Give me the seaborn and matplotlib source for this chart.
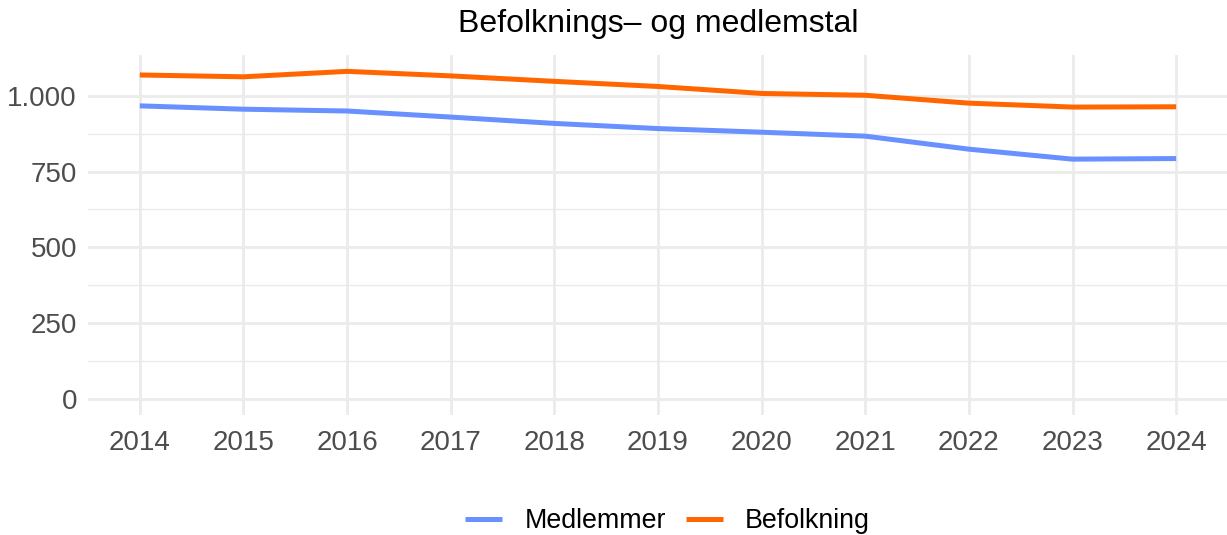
import pandas as pd
import matplotlib
matplotlib.use("Agg")
import matplotlib.pyplot as plt
import matplotlib.ticker as mticker
import seaborn as sns

# --- DATA ---
years = [2014, 2015, 2016, 2017, 2018, 2019, 2020, 2021, 2022, 2023, 2024]
medlemmer = [967, 956, 950, 930, 909, 892, 880, 867, 824, 791, 793]
befolkning = [1069, 1063, 1081, 1066, 1048, 1031, 1008, 1002, 976, 963, 964]
series_names = ["Medlemmer", "Befolkning"]
series_colors = ["#6890FF", "#FF6600"]
y_ticks = [0, 250, 500, 750, 1000]
y_minor = [125, 375, 625, 875]

df = pd.DataFrame({
    "year": years * 2,
    "value": medlemmer + befolkning,
    "serie": [series_names[0]] * len(years) + [series_names[1]] * len(years),
})

sns.set_style("white")
plt.rcParams["font.family"] = ["Liberation Sans", "DejaVu Sans"]

fig = plt.figure(figsize=(12.27, 5.35), dpi=100)
ax = fig.add_axes([88 / 1227, (535 - 415) / 535, (1228 - 88) / 1227, (415 - 55) / 535])

sns.lineplot(data=df, x="year", y="value", hue="serie", hue_order=series_names,
             palette=series_colors, linewidth=3.6, ax=ax, legend=True, zorder=3,
             solid_capstyle="butt")

# grid like ggplot theme_minimal
ax.set_xticks(years)
ax.set_xticklabels([str(y) for y in years])
ax.set_yticks(y_ticks)
ax.set_yticks(y_minor, minor=True)
ax.yaxis.set_major_formatter(mticker.FuncFormatter(lambda v, p: f"{int(v):,}".replace(",", ".")))
ax.grid(True, which="major", color="#EBEBEB", linewidth=2.0, zorder=0)
ax.grid(True, which="minor", axis="y", color="#EBEBEB", linewidth=1.0, zorder=0)
ax.set_axisbelow(True)

span = years[-1] - years[0]
ax.set_xlim(years[0] - 0.05 * span, years[-1] + 0.05 * span)
ax.set_ylim(-54, 1135)

for s in ax.spines.values():
    s.set_visible(False)
ax.tick_params(axis="both", which="both", length=0, labelsize=20, colors="#4D4D4D", pad=8)
ax.tick_params(axis="x", pad=11)
ax.set_xlabel("")
ax.set_ylabel("")

fig.suptitle("Befolknings\u2013 og medlemstal", x=(88 + 1228) / 2 / 1227, y=1 - 9 / 535,
             va="top", fontsize=23, color="black")

handles, labels = ax.get_legend_handles_labels()
for h in handles:
    h.set_solid_capstyle("butt")
leg = ax.legend(handles, labels, loc="center", bbox_to_anchor=(667.5 / 1227, 1 - 521 / 535),
                bbox_transform=fig.transFigure, ncol=2, frameon=False, fontsize=19.3,
                handlelength=1.38, columnspacing=0.75, handletextpad=0.82)
for t in leg.get_texts():
    t.set_color("black")

fig.savefig("out.png", dpi=100)
